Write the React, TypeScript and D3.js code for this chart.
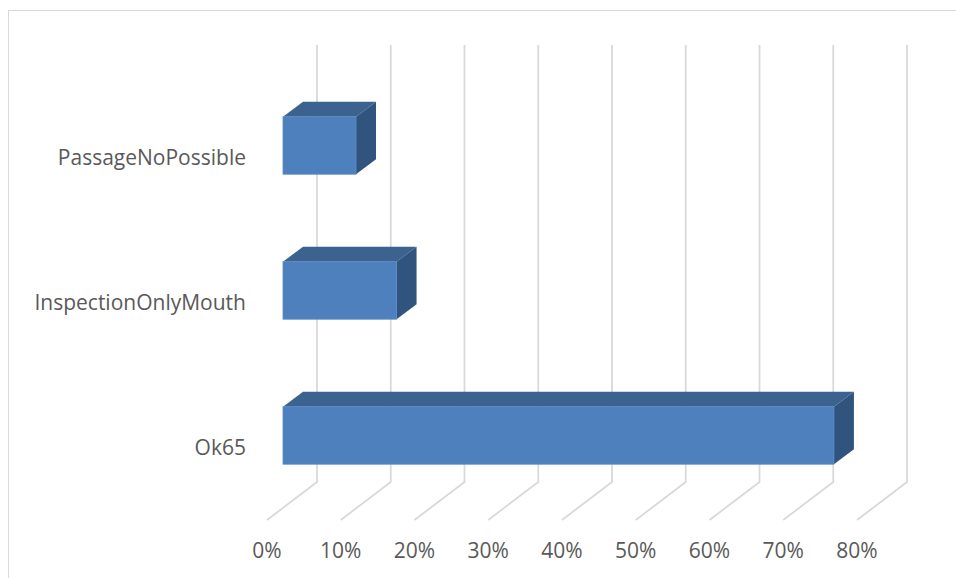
import React from "react";
import * as d3 from "d3";

const categories = ["PassageNoPossible", "InspectionOnlyMouth", "Ok65"];
const values = [0.099, 0.154, 0.747];
const ticks = [0, 0.1, 0.2, 0.3, 0.4, 0.5, 0.6, 0.7, 0.8];

const W = 956;
const H = 578;

export default function App() {
  // back wall x scale
  const xBack = d3.scaleLinear().domain([0, 0.8]).range([317, 907]);
  const wallTop = 45;
  const wallBottom = 482;
  const floorDx = -50;
  const floorDy = 38;
  // bar front face offset relative to back wall
  const barFrontDx = -34;
  const depthDx = 20;
  const depthDy = -15;
  const y = d3
    .scaleBand<string>()
    .domain(categories)
    .range([44.2, 536.7])
    .paddingInner(0.6034)
    .paddingOuter(0.5);
  const fmt = d3.format(".0%");
  const font = "'Open Sans', sans-serif";

  return (
    <svg width={W} height={H} style={{ position: "absolute", left: 0, top: 0 }}>
      <rect x={0} y={0} width={W} height={H} fill="#fff" />
      <rect x={8.5} y={10.5} width={W} height={H} fill="none" stroke="#d9d9d9" strokeWidth={1} />
      {ticks.map((t) => {
        const bx = xBack(t);
        return (
          <path
            key={"g" + t}
            d={`M${bx},${wallTop}L${bx},${wallBottom}L${bx + floorDx},${wallBottom + floorDy}`}
            fill="none"
            stroke="#d9d9d9"
            strokeWidth={1.8}
          />
        );
      })}
      {categories.map((c, i) => {
        const x0 = xBack(0) + barFrontDx;
        const x1 = xBack(values[i]) + barFrontDx;
        const y0 = y(c)!;
        const y1 = y0 + y.bandwidth();
        const top = `M${x0},${y0}L${x0 + depthDx},${y0 + depthDy}L${x1 + depthDx},${y0 + depthDy}L${x1},${y0}Z`;
        const side = `M${x1},${y0}L${x1 + depthDx},${y0 + depthDy}L${x1 + depthDx},${y1 + depthDy}L${x1},${y1}Z`;
        return (
          <g key={c}>
            <path d={top} fill="#3c6390" />
            <path d={side} fill="#31547f" />
            <rect x={x0} y={y0} width={x1 - x0} height={y1 - y0} fill="#4e80bd" stroke="#5b8bc4" strokeWidth={0.8} />
            <text
              x={246}
              y={y0 + 48}
              textAnchor="end"
              fontFamily={font}
              fontSize={21}
              fill="#595959"
            >
              {c}
            </text>
          </g>
        );
      })}
      {ticks.map((t) => (
        <text
          key={"t" + t}
          x={xBack(t) + floorDx}
          y={558}
          textAnchor="middle"
          fontFamily={font}
          fontSize={21}
          fill="#595959"
        >
          {fmt(t)}
        </text>
      ))}
    </svg>
  );
}
